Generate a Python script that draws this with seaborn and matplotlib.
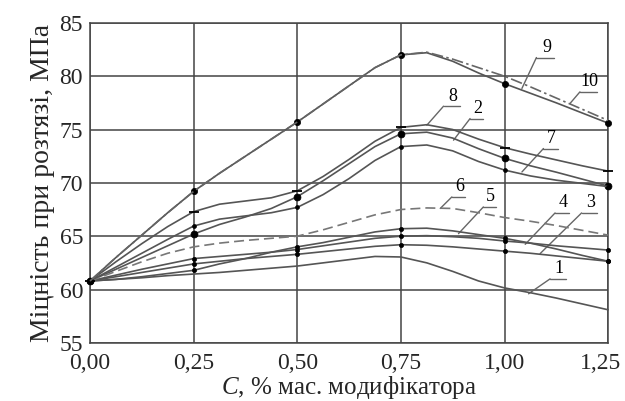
import numpy as np
import pandas as pd
import matplotlib
matplotlib.use("Agg")
import matplotlib.pyplot as plt
import matplotlib.transforms as mtransforms
import seaborn as sns

# values (tensile strength, MPa), every 0.0625 %
conc = [0.0, 0.0625, 0.125, 0.1875, 0.25, 0.3125, 0.375, 0.4375, 0.5, 0.5625, 0.625,
        0.6875, 0.75, 0.8125, 0.875, 0.9375, 1.0, 1.0625, 1.125, 1.1875, 1.25]
curve_1 = [60.8, 60.95, 61.1, 61.3, 61.45, 61.6, 61.8, 62.0, 62.2, 62.5, 62.8,
           63.1, 63.05, 62.5, 61.7, 60.8, 60.15, 59.7, 59.2, 58.65, 58.1]
curve_2 = [60.8, 61.9, 63.0, 64.1, 65.2, 66.1, 66.8, 67.6, 68.7, 70.2, 71.8,
           73.4, 74.6, 74.75, 74.2, 73.2, 72.3, 71.6, 71.0, 70.35, 69.7]
curve_3 = [60.8, 61.2, 61.6, 62.0, 62.4, 62.65, 62.9, 63.1, 63.3, 63.55, 63.8,
           64.05, 64.2, 64.15, 64.0, 63.8, 63.6, 63.4, 63.15, 62.9, 62.65]
curve_4 = [60.8, 61.35, 61.9, 62.4, 62.9, 63.1, 63.3, 63.5, 63.75, 64.1, 64.45,
           64.8, 65.0, 65.05, 64.95, 64.8, 64.55, 64.35, 64.1, 63.9, 63.7]
curve_5 = [60.8, 60.95, 61.2, 61.5, 61.8, 62.4, 62.9, 63.5, 64.0, 64.4, 64.9,
           65.4, 65.7, 65.75, 65.5, 65.15, 64.8, 64.35, 63.8, 63.2, 62.65]
curve_6 = [60.8, 61.7, 62.6, 63.4, 64.0, 64.35, 64.6, 64.8, 65.0, 65.6, 66.3,
           67.0, 67.5, 67.65, 67.6, 67.2, 66.75, 66.4, 66.0, 65.55, 65.1]
curve_7 = [60.8, 62.1, 63.4, 64.7, 65.95, 66.6, 66.9, 67.2, 67.7, 68.9, 70.4,
           72.1, 73.4, 73.55, 73.0, 72.0, 71.2, 70.65, 70.25, 69.95, 69.65]
curve_8 = [60.8, 62.6, 64.3, 65.9, 67.3, 68.0, 68.3, 68.6, 69.25, 70.6, 72.2,
           73.9, 75.2, 75.45, 75.0, 74.1, 73.3, 72.7, 72.15, 71.6, 71.1]
curve_9 = [60.8, 63.0, 65.1, 67.2, 69.2, 70.9, 72.5, 74.1, 75.7, 77.4, 79.1,
           80.8, 82.0, 82.2, 81.4, 80.3, 79.3, 78.4, 77.5, 76.55, 75.6]
curve_10 = [60.8, 63.0, 65.1, 67.2, 69.2, 70.9, 72.5, 74.1, 75.7, 77.4, 79.1,
            80.8, 82.0, 82.25, 81.6, 80.8, 80.0, 79.0, 77.95, 76.9, 75.85]

x_ticks = [0.0, 0.25, 0.5, 0.75, 1.0, 1.25]
x_tick_labels = ["0,00", "0,25", "0,50", "0,75", "1,00", "1,25"]
y_ticks = [55, 60, 65, 70, 75, 80, 85]

curves = {"1": curve_1, "2": curve_2, "3": curve_3, "4": curve_4, "5": curve_5,
          "6": curve_6, "7": curve_7, "8": curve_8, "9": curve_9, "10": curve_10}

df = pd.DataFrame({"C": conc, **curves}).melt(id_vars="C", var_name="curve", value_name="sigma")

line_col = "#555555"
styles = {
    "1": dict(ls="-", marker=None, ms=0),
    "2": dict(ls="-", marker="o", ms=5),
    "3": dict(ls="-", marker="o", ms=3),
    "4": dict(ls="-", marker="o", ms=3),
    "5": dict(ls="-", marker="o", ms=3),
    "6": dict(ls=(0, (6, 3)), marker=None, ms=0),
    "7": dict(ls="-", marker="o", ms=2.8),
    "8": dict(ls="-", marker="_", ms=7),
    "9": dict(ls="-", marker="o", ms=4.5),
    "10": dict(ls=(0, (7, 2, 1.5, 2)), marker=None, ms=0),
}

# curve label: underline (x0, x1, y) and end of leader on the curve
labels = {
    "9": ((1.077, 1.120, 81.75), (1.042, 78.85)),
    "10": ((1.182, 1.222, 78.53), (1.158, 77.44)),
    "8": ((0.853, 0.893, 77.19), (0.8125, 75.4)),
    "2": ((0.917, 0.947, 76.03), (0.877, 74.0)),
    "7": ((1.094, 1.128, 73.22), (1.042, 71.02)),
    "6": ((0.873, 0.905, 68.68), (0.845, 67.6)),
    "5": ((0.949, 0.979, 67.74), (0.889, 65.24)),
    "4": ((1.122, 1.156, 67.18), (1.050, 64.24)),
    "3": ((1.186, 1.222, 67.18), (1.086, 63.37)),
    "1": ((1.110, 1.148, 61.0), (1.058, 59.6)),
}

sns.set_style("white")
plt.rcParams["font.family"] = ["Liberation Serif", "DejaVu Serif"]
plt.rcParams["mathtext.fontset"] = "custom"
plt.rcParams["mathtext.it"] = "Liberation Serif:italic"
plt.rcParams["mathtext.rm"] = "Liberation Serif"

fig, ax = plt.subplots(figsize=(6.25, 4.01), dpi=100)
fig.subplots_adjust(left=0.144, right=0.973, top=0.943, bottom=0.145)

for name, st in styles.items():
    sub = df[df["curve"] == name]
    col = "#777777" if name == "6" else ("#666666" if name == "10" else line_col)
    sns.lineplot(data=sub, x="C", y="sigma", ax=ax, color=col, lw=1.2,
                 linestyle=st["ls"], marker=st["marker"], markersize=st["ms"],
                 markevery=4, markerfacecolor="black", markeredgecolor="black",
                 markeredgewidth=1.3 if st["marker"] == "_" else 0.5,
                 errorbar=None, clip_on=False, zorder=3)

for name, (uline, lend) in labels.items():
    ax.text((uline[0] + uline[1]) / 2 + 0.003, uline[2] + 0.15, name, fontsize=13,
            ha="center", va="bottom", color="black")
    ax.plot([uline[0], uline[1]], [uline[2], uline[2]], color="#666666", lw=1.0)
    ax.plot([uline[0], lend[0]], [uline[2], lend[1]], color="#666666", lw=1.0)

ax.set_xlim(0, 1.25)
ax.set_ylim(55, 85)
ax.set_xticks(x_ticks)
ax.set_xticklabels(x_tick_labels)
ax.set_yticks(y_ticks)
ax.grid(True, color="#444444", lw=1.1)
ax.set_axisbelow(True)
for sp in ax.spines.values():
    sp.set_color("#444444")
    sp.set_linewidth(1.1)
ax.tick_params(axis="both", labelsize=17, length=3, color="#444444")
ax.tick_params(axis="x", pad=4)
ax.tick_params(axis="y", pad=2)

# nudge the last x label so it stays inside the picture
last = ax.get_xticklabels()[-1]
last.set_transform(last.get_transform() + mtransforms.ScaledTranslation(-8 / 100, 0, fig.dpi_scale_trans))

ax.set_xlabel("$C$, % мас. модифікатора", fontsize=18, labelpad=0)
ax.set_ylabel("Міцність при розтязі, МПа", fontsize=20, labelpad=3)

fig.savefig("out.png", dpi=100)
